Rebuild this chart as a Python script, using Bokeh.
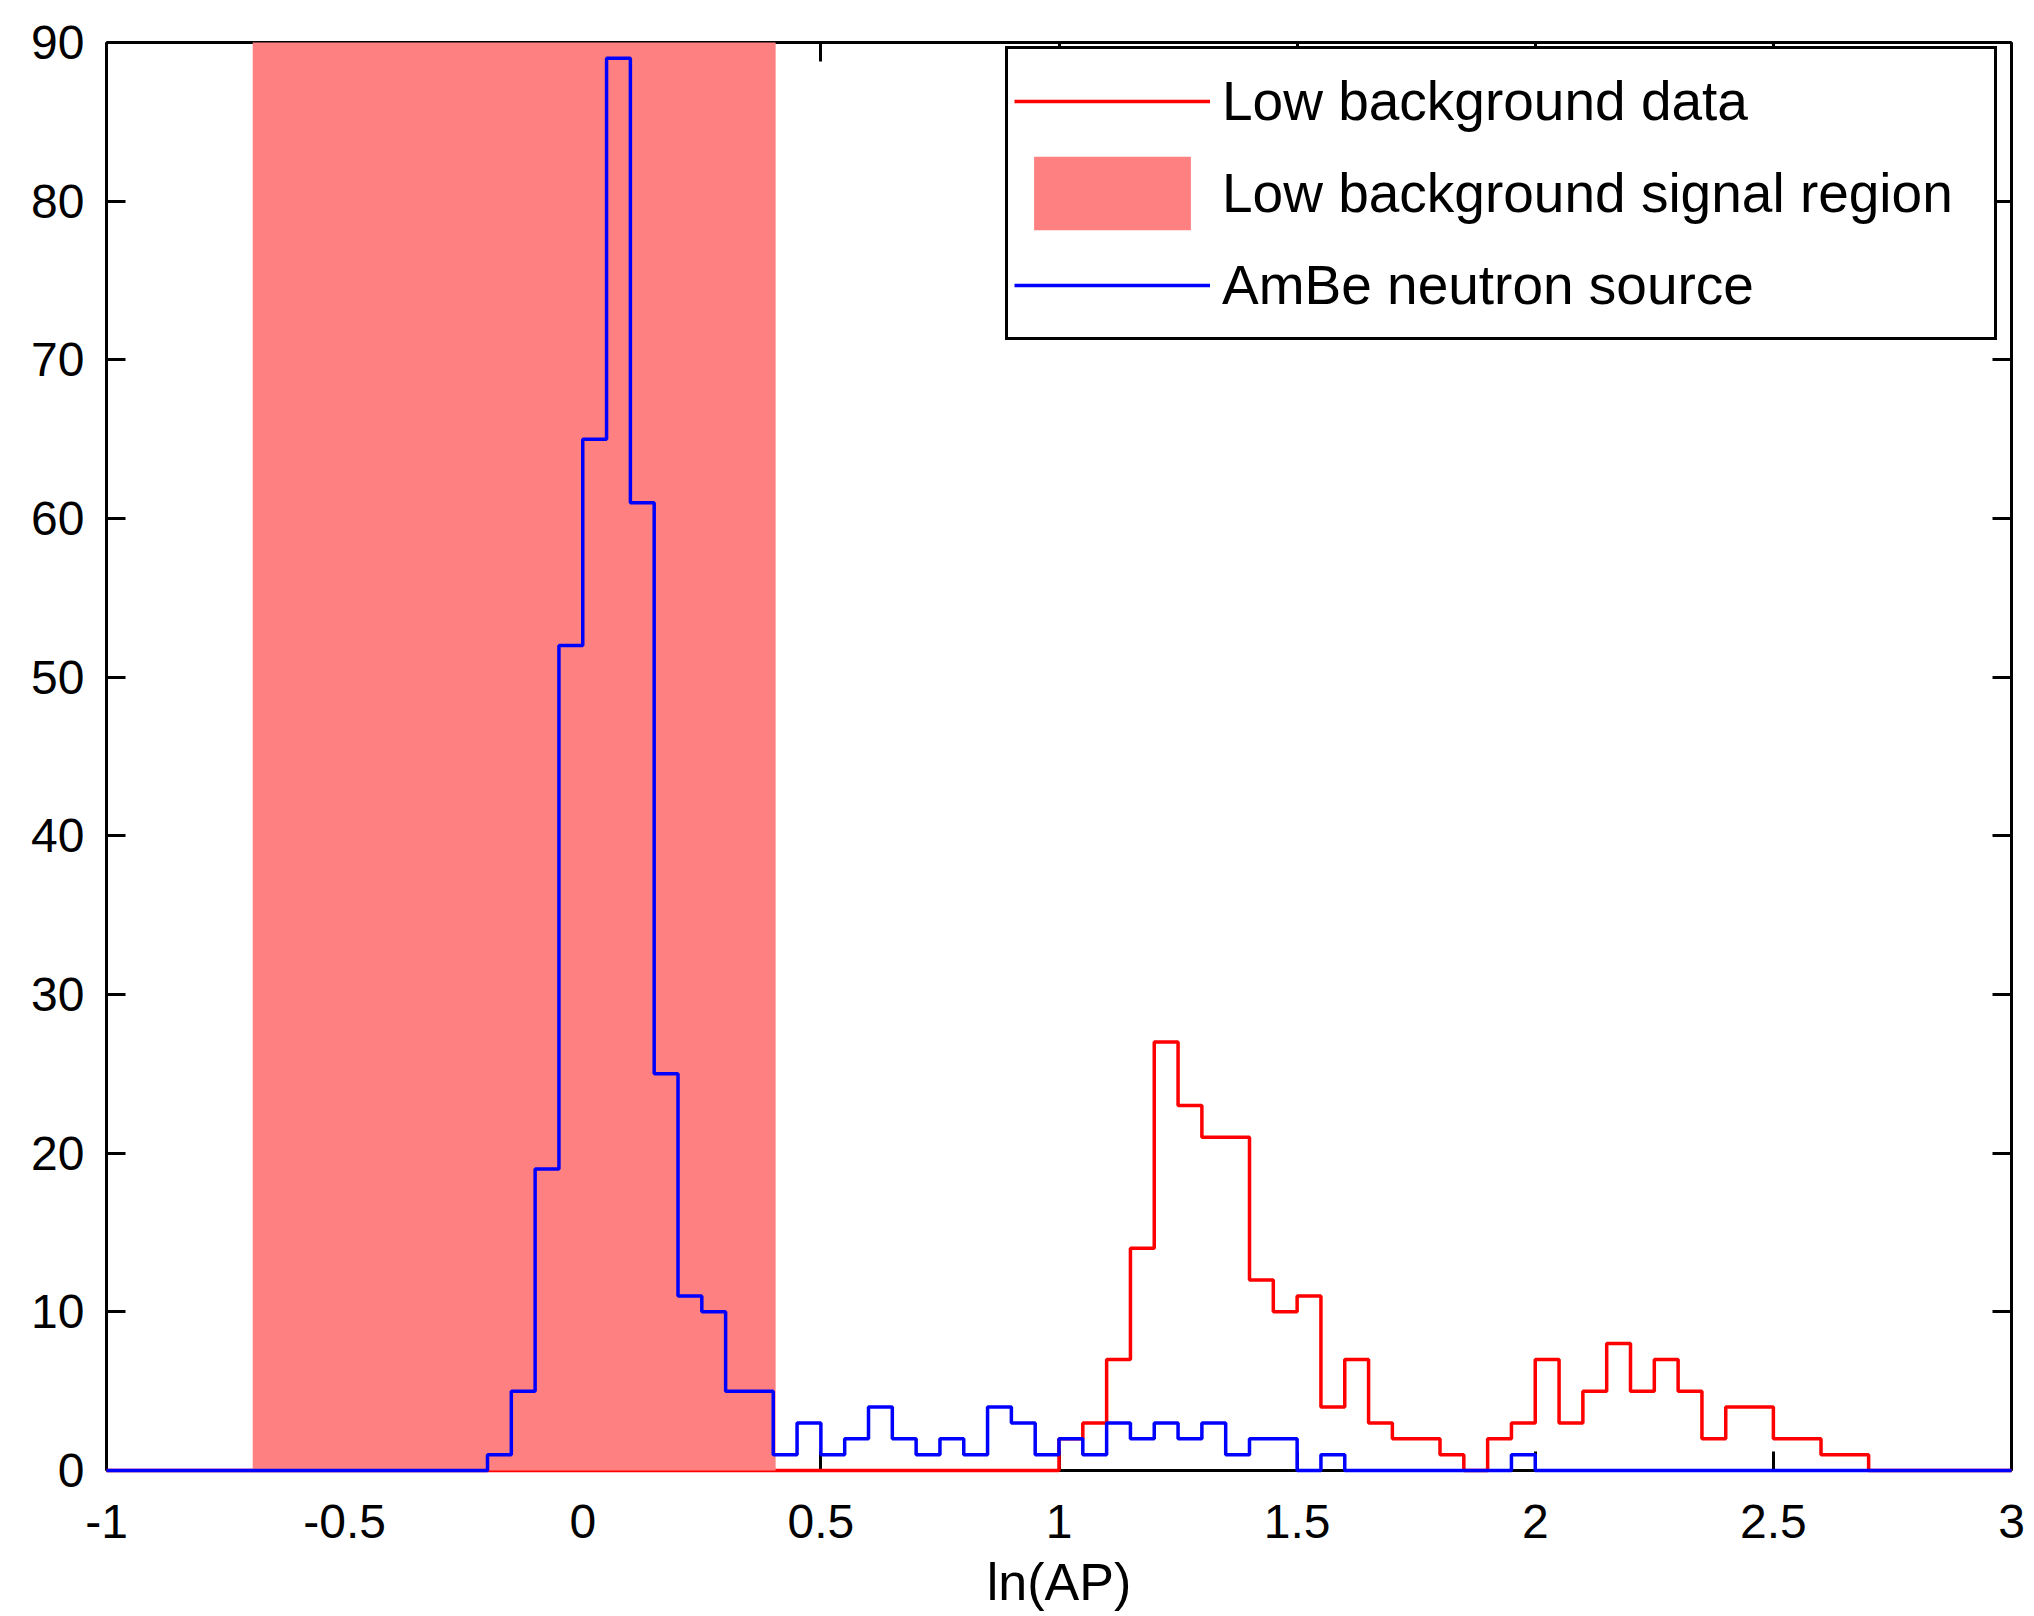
import numpy as np
from bokeh.plotting import figure
from bokeh.models import Range1d, FixedTicker, LinearAxis, Legend, LegendItem
from bokeh.embed import file_html
from bokeh.resources import INLINE

# ---- data ----
bin_start = -1.0
bin_width = 0.05
n_bins = 80

ambe_counts = [0, 0, 0, 0, 0, 0, 0, 0, 0, 0, 0, 0, 0, 0, 0, 0,
               1, 5, 19, 52, 65, 89, 61, 25, 11, 10, 5, 5,
               1, 3, 1, 2, 4, 2, 1, 2, 1, 4, 3, 1,
               2, 1, 3, 2, 3, 2, 3, 1, 2, 2, 0, 1,
               0, 0, 0, 0, 0, 0, 0, 1,
               0, 0, 0, 0, 0, 0, 0, 0, 0, 0, 0, 0, 0, 0, 0, 0, 0, 0, 0, 0]

lowbg_counts = [0, 0, 0, 0, 0, 0, 0, 0, 0, 0, 0, 0, 0, 0, 0, 0, 0, 0, 0, 0,
                0, 0, 0, 0, 0, 0, 0, 0, 0, 0, 0, 0, 0, 0, 0, 0, 0, 0, 0, 0,
                2, 3, 7, 14, 27, 23, 21, 21, 12, 10,
                11, 4, 7, 3, 2, 2, 1, 0, 2, 3,
                7, 3, 5, 8, 5, 7, 5, 2, 4, 4,
                2, 2, 1, 1,
                0, 0, 0, 0, 0, 0]

signal_region = [-0.693, 0.405]   # ln(0.5) .. ln(1.5)

x_ticks = [-1, -0.5, 0, 0.5, 1, 1.5, 2, 2.5, 3]
x_tick_labels = ["-1", "-0.5", "0", "0.5", "1", "1.5", "2", "2.5", "3"]
y_ticks = [0, 10, 20, 30, 40, 50, 60, 70, 80, 90]
y_tick_labels = ["0", "10", "20", "30", "40", "50", "60", "70", "80", "90"]

x_min, x_max = -1, 3
y_min, y_max = 0, 90

labels = ["Low background data", "Low background signal region", "AmBe neutron source"]
x_label = "ln(AP)"

# ---- figure ----
FONT = "Liberation Sans"
edges = np.round(bin_start + bin_width * np.arange(n_bins + 1), 4)

p = figure(width=2034, height=1616, output_backend="svg", toolbar_location=None,
           x_range=Range1d(x_min, x_max), y_range=Range1d(y_min, y_max),
           min_border_left=106, min_border_right=23, min_border_top=42, min_border_bottom=146)
p.background_fill_color = "white"
p.border_fill_color = "white"
p.outline_line_color = None
p.xgrid.visible = False
p.ygrid.visible = False


def style_axis(ax, ticks, labs, show_labels=True, standoff=22):
    ax.ticker = FixedTicker(ticks=ticks)
    ax.axis_line_color = "black"
    ax.axis_line_width = 3
    ax.major_tick_line_color = "black"
    ax.major_tick_line_width = 3
    ax.major_tick_in = 19
    ax.major_tick_out = 0
    ax.minor_tick_line_color = None
    ax.major_label_text_font = FONT
    if show_labels:
        ax.major_label_overrides = {t: l for t, l in zip(ticks, labs)}
        ax.major_label_text_color = "black"
        ax.major_label_text_font_size = "48px"
        ax.major_label_standoff = standoff
    else:
        ax.major_label_text_color = None
        ax.major_label_text_font_size = "8px"
        ax.major_label_standoff = 0


style_axis(p.xaxis[0], x_ticks, x_tick_labels, standoff=34)
style_axis(p.yaxis[0], y_ticks, y_tick_labels, standoff=22)
p.xaxis[0].axis_label = x_label
p.xaxis[0].axis_label_text_font = FONT
p.xaxis[0].axis_label_text_font_size = "52px"
p.xaxis[0].axis_label_text_font_style = "normal"
p.xaxis[0].axis_label_text_color = "black"
p.xaxis[0].axis_label_standoff = 12

top_ax = LinearAxis()
style_axis(top_ax, x_ticks, x_tick_labels, show_labels=False)
p.add_layout(top_ax, "above")
right_ax = LinearAxis()
style_axis(right_ax, y_ticks, y_tick_labels, show_labels=False)
p.add_layout(right_ax, "right")

# ---- glyphs ----
red_r = p.step(x=edges, y=np.append(lowbg_counts, lowbg_counts[-1]), mode="after",
               line_color="#ff0000", line_width=3.5, level="overlay")
patch_r = p.quad(left=signal_region[0], right=signal_region[1], bottom=y_min, top=y_max,
                 fill_color="#ff8080", line_color=None, level="overlay")
blue_r = p.step(x=edges, y=np.append(ambe_counts, ambe_counts[-1]), mode="after",
                line_color="#0000ff", line_width=3.5, level="overlay")

legend = Legend(items=[LegendItem(label=labels[0], renderers=[red_r]),
                       LegendItem(label=labels[1], renderers=[patch_r]),
                       LegendItem(label=labels[2], renderers=[blue_r])],
                location=(899, 1130))
legend.glyph_width = 196
legend.glyph_height = 92
legend.spacing = 0
legend.padding = 6
legend.margin = 0
legend.label_standoff = 12
legend.label_width = 766
legend.label_text_font = FONT
legend.label_text_font_size = "55px"
legend.label_text_color = "black"
legend.border_line_color = "black"
legend.border_line_alpha = 1.0
legend.border_line_width = 3
legend.background_fill_color = "white"
legend.background_fill_alpha = 1.0
p.add_layout(legend)

open("out.html", "w").write(file_html(p, INLINE))
